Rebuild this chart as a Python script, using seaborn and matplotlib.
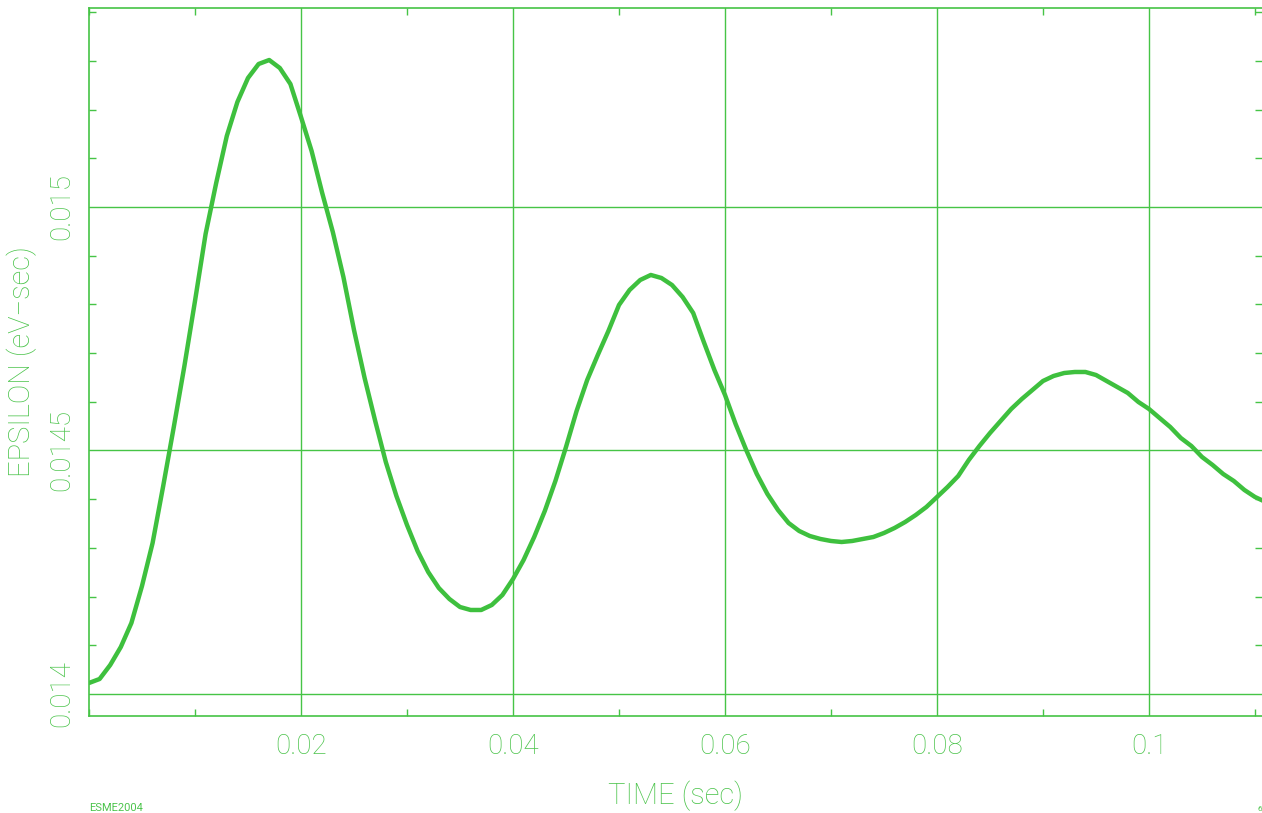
import numpy as np
import pandas as pd
import matplotlib
matplotlib.use("Agg")
import matplotlib.pyplot as plt
from matplotlib.ticker import MultipleLocator
import seaborn as sns

# epsilon every 1 ms, t = 0 .. 0.111 s
eps = [0.0140226, 0.0140308, 0.0140595, 0.0140965, 0.0141458, 0.0142218, 0.0143101, 0.0144271,
       0.0145483, 0.0146735, 0.0148070, 0.0149446, 0.0150493, 0.0151458, 0.0152156, 0.0152649,
       0.0152936, 0.0153018, 0.0152854, 0.0152526, 0.0151848, 0.0151150, 0.0150287, 0.0149487,
       0.0148563, 0.0147474, 0.0146489, 0.0145606, 0.0144764, 0.0144066, 0.0143470, 0.0142936,
       0.0142505, 0.0142177, 0.0141951, 0.0141786, 0.0141725, 0.0141725, 0.0141828, 0.0142033,
       0.0142361, 0.0142752, 0.0143224, 0.0143758, 0.0144374, 0.0145072, 0.0145811, 0.0146448,
       0.0146961, 0.0147454, 0.0147988, 0.0148296, 0.0148501, 0.0148604, 0.0148542, 0.0148398,
       0.0148152, 0.0147823, 0.0147228, 0.0146653, 0.0146140, 0.0145544, 0.0145010, 0.0144517,
       0.0144107, 0.0143778, 0.0143511, 0.0143347, 0.0143244, 0.0143183, 0.0143142, 0.0143121,
       0.0143142, 0.0143183, 0.0143224, 0.0143306, 0.0143409, 0.0143532, 0.0143676, 0.0143840,
       0.0144045, 0.0144251, 0.0144476, 0.0144805, 0.0145092, 0.0145359, 0.0145606, 0.0145852,
       0.0146057, 0.0146242, 0.0146427, 0.0146530, 0.0146591, 0.0146612, 0.0146612, 0.0146550,
       0.0146427, 0.0146304, 0.0146181, 0.0145996, 0.0145852, 0.0145667, 0.0145483, 0.0145257,
       0.0145092, 0.0144867, 0.0144702, 0.0144517, 0.0144374, 0.0144189, 0.0144045, 0.0143943]
time_sec = np.arange(len(eps)) * 0.001

xticks = [0.02, 0.04, 0.06, 0.08, 0.1]
xtick_labels = ["0.02", "0.04", "0.06", "0.08", "0.1"]
yticks = [0.014, 0.0145, 0.015]
ytick_labels = ["0.014", "0.0145", "0.015"]

df = pd.DataFrame({"time": time_sec, "eps": eps})

sns.set_style("white")
plt.rcParams['font.family'] = ['Roboto', 'DejaVu Sans']

line_c = "#3ec03e"
axis_c = "#46c446"
text_c = "#4cc44c"

fig = plt.figure(figsize=(12.62, 8.13), dpi=100)
ax = fig.add_axes([89/1262, 97/813, (1262-89)/1262, 708/813])

sns.lineplot(data=df, x="time", y="eps", ax=ax, color=line_c, lw=3.2)

ax.set_xlim(0, 0.11066)
ax.set_ylim(0.0139548, 0.0154086)

ax.set_xticks(xticks)
ax.set_xticklabels(xtick_labels, fontsize=20, color=text_c, fontweight='light')
ax.set_yticks(yticks)
ax.set_yticklabels(ytick_labels, fontsize=20, color=text_c, rotation=90, va='center',
                   fontweight='light')
ax.xaxis.set_minor_locator(MultipleLocator(0.01))
ax.yaxis.set_minor_locator(MultipleLocator(0.0001))

ax.tick_params(which='major', direction='out', length=5, width=1, color=axis_c, pad=7)
ax.tick_params(axis='y', which='major', pad=5)
ax.tick_params(which='minor', direction='in', length=5, width=1, color=axis_c,
               top=True, right=True, bottom=True, left=True)
ax.grid(True, which='major', color=axis_c, lw=1)

for side in ["left", "bottom", "top"]:
    ax.spines[side].set_color(axis_c)
    ax.spines[side].set_linewidth(1.2)
ax.spines["right"].set_visible(False)

ax.set_xlabel("TIME (sec)", fontsize=21, color=text_c, labelpad=15, fontweight='light')
ax.set_ylabel("EPSILON (eV\u2212sec)", fontsize=21, color=text_c, labelpad=8, fontweight='light')

fig.text(89/1262, 2/813, "ESME2004", fontsize=8, color=text_c)
fig.text(1257/1262, 2/813, "6", fontsize=6, color=text_c)

fig.savefig("out.png", dpi=100)
